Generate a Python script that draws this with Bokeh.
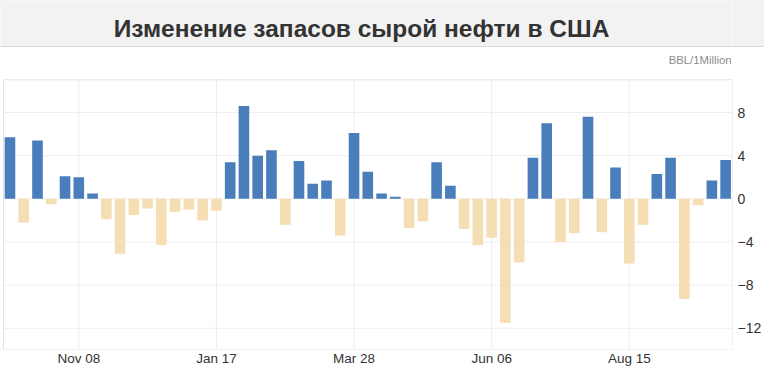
import pandas as pd
from bokeh.plotting import figure
from bokeh.models import ColumnDataSource, Range1d, FixedTicker, DatetimeTickFormatter
from bokeh.core.properties import value
from bokeh.embed import file_html
from bokeh.resources import INLINE

# ---------------- data ----------------
title_text = "Изменение запасов сырой нефти в США"
unit_text = "BBL/1Million"

weeks = pd.date_range("2021-10-04", periods=53, freq="7D")
changes = [
    5.7, -2.2, 5.4, -0.5, 2.1, 2.0, 0.5, -1.9, -5.1, -1.5,
    -0.9, -4.3, -1.2, -1.0, -2.0, -1.1, 3.4, 8.6, 4.0, 4.5,
    -2.4, 3.5, 1.4, 1.7, -3.4, 6.1, 2.5, 0.5, 0.2, -2.7,
    -2.1, 3.4, 1.2, -2.8, -4.3, -3.6, -11.5, -5.9, 3.8, 7.0,
    -4.0, -3.2, 7.6, -3.1, 2.9, -6.0, -2.4, 2.3, 3.8, -9.3,
    -0.6, 1.7, 3.6,
]
tick_dates = ["2021-11-08", "2022-01-17", "2022-03-28", "2022-06-06", "2022-08-15"]
tick_labels = ["Nov 08", "Jan 17", "Mar 28", "Jun 06", "Aug 15"]
y_ticks = [-12, -8, -4, 0, 4, 8]

# ---------------- style ----------------
POS = "#4a7ebb"
NEG = "#f5deb3"
BAND = "#f2f2f2"
SEP = "#dcdcdc"
GRID = "#eeeeee"
FRAME_LINE = "#e3e3e3"
FONT = "Liberation Sans"

# ---------------- layout (pixels) ----------------
FIG_W, FIG_H = 764, 368
B_RIGHT, B_BOTTOM = 28, 16
FRAME_W, FRAME_H = FIG_W - B_RIGHT, FIG_H - B_BOTTOM
PA_LEFT, PA_RIGHT, PA_TOP = 3, FRAME_W, 80      # plot area inside the frame
BAND_H = 46                                      # grey title band, separator below it

# plot-area extents in data units
pa_start = pd.Timestamp("2021-11-08") - pd.Timedelta(days=38.3)
pa_end = pd.Timestamp("2021-11-08") + pd.Timedelta(days=332.5)
y_top, y_bottom = 11.03, -13.97

ms_per_px = (pa_end - pa_start).total_seconds() * 1000 / (PA_RIGHT - PA_LEFT)
px_per_unit = (FRAME_H - PA_TOP) / (y_top - y_bottom)
x0 = pa_start.value / 1e6 - PA_LEFT * ms_per_px
x1 = x0 + FRAME_W * ms_per_px
y1 = y_top + PA_TOP / px_per_unit


def X(px):
    return x0 + px * ms_per_px


def Y(py):
    return y1 - py / px_per_unit


p = figure(width=FIG_W, height=FIG_H, x_axis_type="datetime", y_axis_location="right",
           x_range=Range1d(x0, x1), y_range=Range1d(y_bottom, y1),
           toolbar_location=None, output_backend="svg", title=None,
           min_border_left=0, min_border_top=0,
           min_border_right=B_RIGHT, min_border_bottom=B_BOTTOM,
           background_fill_color="white", border_fill_color=None,
           outline_line_color=None,
           styles={"background": f"linear-gradient(to bottom, {BAND} 0px, {BAND} {BAND_H}px, "
                                 f"{SEP} {BAND_H}px, {SEP} {BAND_H + 1}px, #ffffff {BAND_H + 1}px)"})
p.xgrid.visible = False
p.ygrid.visible = False

# title band + separator
p.quad(left=[X(0)], right=[X(FRAME_W)], top=[Y(0)], bottom=[Y(BAND_H)], fill_color=BAND, line_color=None)
p.quad(left=[X(0)], right=[X(FRAME_W)], top=[Y(BAND_H)], bottom=[Y(BAND_H + 1)], fill_color=SEP, line_color=None)

# grid lines limited to the plot area
tick_ms = [pd.Timestamp(d).value / 1e6 for d in tick_dates]
p.segment(x0=tick_ms, x1=tick_ms, y0=[y_bottom] * len(tick_ms), y1=[y_top] * len(tick_ms),
          line_color=GRID, line_width=1)
p.segment(x0=[pa_start.value / 1e6] * len(y_ticks), x1=[pa_end.value / 1e6] * len(y_ticks),
          y0=y_ticks, y1=y_ticks, line_color=GRID, line_width=1)

# plot-area frame
p.quad(left=[pa_start.value / 1e6], right=[pa_end.value / 1e6], top=[y_top], bottom=[y_bottom],
       fill_color=None, line_color=FRAME_LINE, line_width=1)

# bars
src = ColumnDataSource(dict(
    week=list(weeks),
    change=changes,
    color=[POS if v >= 0 else NEG for v in changes],
))
p.vbar(x="week", top="change", bottom=0, width=5.4 * 86400000, source=src,
       fill_color="color", line_color=None)

# texts
p.text(x=[X(363)], y=[Y(28)], text=[title_text], text_font=value(FONT),
       text_font_style="bold", text_font_size="24.5px", text_color="#333333",
       text_align="center", text_baseline="middle")
p.text(x=[X(735)], y=[Y(60)], text=[unit_text], text_font=value(FONT),
       text_font_size="11.3px", text_color="#8c8c8c",
       text_align="right", text_baseline="middle")

# axes
p.xaxis.ticker = FixedTicker(ticks=tick_ms)
p.xaxis.formatter = DatetimeTickFormatter(days="%b %d", months="%b %d", years="%b %d")
p.xaxis.major_label_overrides = {t: lbl for t, lbl in zip(tick_ms, tick_labels)}
p.yaxis.ticker = FixedTicker(ticks=y_ticks)

for ax in (p.xaxis, p.yaxis):
    ax.axis_line_color = None
    ax.major_tick_line_color = None
    ax.minor_tick_line_color = None
    ax.major_tick_out = 0
    ax.major_tick_in = 0
    ax.major_label_text_font = FONT
    ax.major_label_text_color = "#333333"
p.xaxis.major_label_text_font_size = "13.5px"
p.yaxis.major_label_text_font_size = "14px"
p.xaxis.major_label_standoff = 1
p.yaxis.major_label_standoff = 5

open("out.html", "w").write(file_html(p, INLINE))
